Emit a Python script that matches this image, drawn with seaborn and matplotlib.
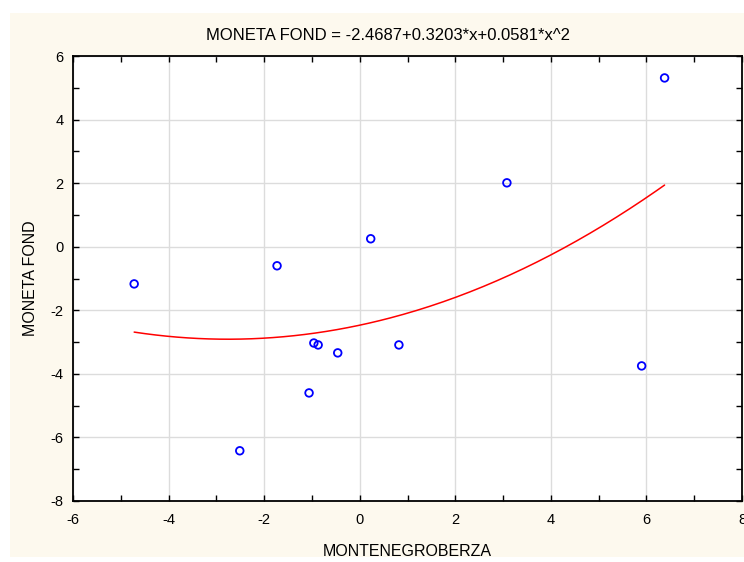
import numpy as np
import pandas as pd
import matplotlib
matplotlib.use("Agg")
import matplotlib.pyplot as plt
import seaborn as sns
from matplotlib.ticker import MultipleLocator
from matplotlib.patches import Rectangle

# Data
montenegroberza = [-4.72, -1.73, -2.51, -1.06, -0.96, -0.87, -0.46, 0.23, 0.82, 3.08, 5.90, 6.38]
moneta_fond = [-1.17, -0.60, -6.42, -4.60, -3.03, -3.09, -3.34, 0.25, -3.09, 2.01, -3.75, 5.31]
coef = [-2.4687, 0.3203, 0.0581]  # intercept, x, x^2 (from title)
x_ticks = [-6, -4, -2, 0, 2, 4, 6, 8]
y_ticks = [-8, -6, -4, -2, 0, 2, 4, 6]

sns.set_theme(style="white")
plt.rcParams['font.family'] = ['Liberation Sans', 'DejaVu Sans']
plt.rcParams['text.color'] = 'black'
plt.rcParams['axes.labelcolor'] = 'black'
plt.rcParams['xtick.color'] = 'black'
plt.rcParams['ytick.color'] = 'black'
plt.rcParams['axes.unicode_minus'] = False

fig = plt.figure(figsize=(7.44, 5.62), dpi=100)
fig.patch.set_facecolor('white')
W, H = 744, 562
bg = Rectangle((10 / W, 1 - 557 / H), 734 / W, 544 / H,
               transform=fig.transFigure, facecolor='#FDF9EE',
               edgecolor='none', zorder=-10)
fig.patches.append(bg)

ax = fig.add_axes([73 / W, 1 - 501 / H, (742 - 73) / W, (501 - 56) / H])
ax.set_zorder(1)
ax.set_facecolor('white')

df = pd.DataFrame({"x": montenegroberza, "y": moneta_fond})
xs = np.linspace(min(montenegroberza), max(montenegroberza), 200)
fit = pd.DataFrame({"x": xs, "y": coef[0] + coef[1] * xs + coef[2] * xs ** 2})

sns.lineplot(data=fit, x="x", y="y", ax=ax, color='#FF0000', linewidth=1.1, zorder=3)
sns.scatterplot(data=df, x="x", y="y", ax=ax, marker='o', s=30,
                facecolor='none', edgecolor='#0000FF', linewidth=1.3, zorder=4)

ax.set_xlim(-6, 8)
ax.set_ylim(-8, 6)
ax.set_xticks(x_ticks)
ax.set_yticks(y_ticks)
ax.xaxis.set_minor_locator(MultipleLocator(1))
ax.yaxis.set_minor_locator(MultipleLocator(1))
ax.grid(True, which='major', color='#DCDCDC', linewidth=1.0)
ax.set_axisbelow(True)
ax.tick_params(which='both', direction='in', top=True, right=True, bottom=True, left=True,
               length=4, width=1, color='black', labelsize=10.5)
ax.tick_params(axis='x', which='both', pad=9)
ax.tick_params(axis='y', which='both', pad=7)
for s in ax.spines.values():
    s.set_color('black')
    s.set_linewidth(1.3)

ax.set_xlabel("MONTENEGROBERZA", fontsize=11.5, labelpad=12)
ax.set_ylabel("MONETA FOND", fontsize=11.5, labelpad=9)
fig.text(388 / W, 1 - 35 / H, "MONETA FOND = -2.4687+0.3203*x+0.0581*x^2",
         ha='center', va='center', fontsize=12)

fig.savefig("out.png", dpi=100)
